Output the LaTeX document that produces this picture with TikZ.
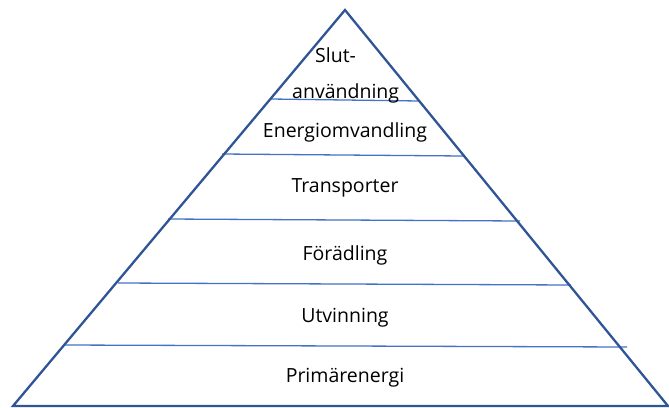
\documentclass[tikz,border=0pt]{standalone}
\usepackage{fontspec}
\setmainfont{Open Sans}
\usepackage{tikz}

\begin{document}
\begin{tikzpicture}[x=1pt,y=-1pt,
        band/.style={draw=bandblue, line width=1.3pt},
        label/.style={font=\fontsize{19.5}{30}\selectfont, inner sep=0pt, anchor=base}]
        \definecolor{edgeblue}{HTML}{2F5597}
        \definecolor{bandblue}{HTML}{4472C4}
        \useasboundingbox (0,0) rectangle (669,407);
        % layer lines
        \draw[band] (271,99) -- (419,101);
        \draw[band] (222,154) -- (463,156);
        \draw[band] (168,219) -- (520,221);
        \draw[band] (118,283) -- (571,285);
        \draw[band] (64,345) -- (627,347);
        % outline
        \draw[edgeblue, line width=2.3pt, line join=miter] (345,10) -- (668,406) -- (13,406) -- cycle;

        \node (slut) [label, align=left, anchor=base west] at (292,98) {\hspace*{23pt}Slut-\\[6pt]användning};
        \node (omv) [label] at (345,137) {Energiomvandling};
        \node (trans) [label] at (345,192) {Transporter};
        \node (fora) [label] at (345,260) {Förädling};
        \node (utv) [label] at (345,322) {Utvinning};
        \node (prim) [label] at (345,382) {Primärenergi};
    \end{tikzpicture}
\end{document}
